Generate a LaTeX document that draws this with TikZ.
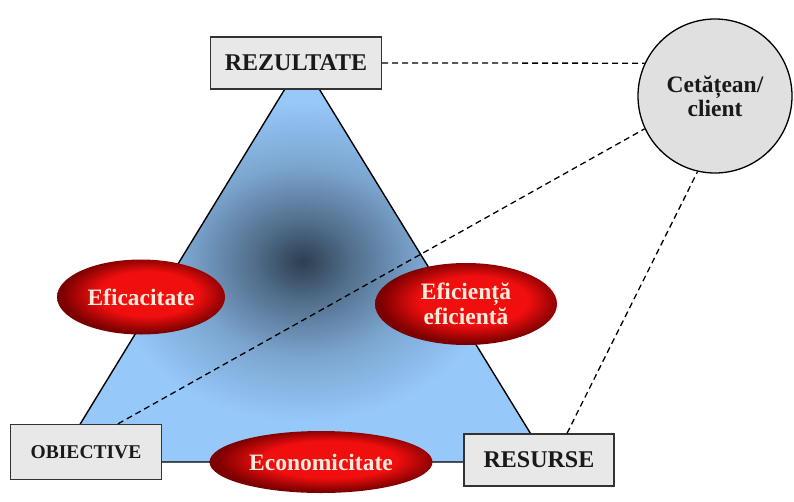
\documentclass[tikz,border=0pt]{standalone}
\usepackage{fontspec}
\setmainfont{Liberation Serif}
\usetikzlibrary{shapes.geometric}
\definecolor{boxgray}{RGB}{232,232,232}
\definecolor{tridark}{RGB}{45,62,80}
\definecolor{trilight}{RGB}{150,200,250}
\definecolor{ovalred}{RGB}{240,14,14}
\definecolor{ovaldark}{RGB}{125,0,0}
\definecolor{ovaltext}{RGB}{252,236,222}
\pgfdeclareradialshading{trishade}{\pgfpoint{0bp}{0bp}}{color(0bp)=(tridark);color(5bp)=(tridark!65!trilight);color(12bp)=(tridark!25!trilight);color(20bp)=(trilight);color(50bp)=(trilight)}
\pgfdeclareradialshading{ovalshade}{\pgfpoint{3bp}{3bp}}{color(0bp)=(ovalred);color(15bp)=(ovalred);color(25bp)=(ovaldark);color(50bp)=(ovaldark)}
\begin{document}
\begin{tikzpicture}[x=1pt,y=-1pt,
  kbox/.style={draw=black!80,line width=1.4pt,fill=boxgray,inner sep=0pt,text=black!90,font=\bfseries\fontsize{24}{26}\selectfont},
  koval/.style={ellipse,shading=ovalshade,inner sep=0pt,text=ovaltext,align=center,font=\bfseries\fontsize{23.5}{25}\selectfont},
  klink/.style={dash pattern=on 6pt off 4pt,line width=1.3pt}]
\useasboundingbox (0,0) rectangle (794,501);
% triangle
\coordinate (top) at (302,61);
\coordinate (left) at (57,462);
\coordinate (right) at (548,462);
\shade[shading=trishade] (top)--(left)--(right)--cycle;
\draw[line width=1.4pt] (top)--(left)--(right)--cycle;
% corners
\node[kbox,minimum width=171pt,minimum height=52pt] (rezultate) at (296,63) {REZULTATE};
\node[kbox,minimum width=151pt,minimum height=55pt,font=\bfseries\fontsize{19.5}{21}\selectfont] (obiective) at (86,452) {OBIECTIVE};
\node[kbox,minimum width=150pt,minimum height=52pt] (resurse) at (539,460) {RESURSE};
\node[circle,draw,line width=1.3pt,fill=black!12,minimum size=154pt,align=center,text=black!90,font=\bfseries\fontsize{23.5}{24}\selectfont] (client) at (715,96) {Cetățean/\\client};
% links to the client
\draw[klink] (rezultate.east) -- (client.155);
\draw[klink] ([xshift=32pt]obiective.north) -- (client.205);
\draw[klink] ([xshift=28pt]resurse.north) -- (client.257);
% ovals
\foreach \kname/\kx/\ky/\kw/\kh/\ktext in {eficacitate/141/297/168/75/{Eficacitate},eficienta/466/304/182/82/{Eficiență\\eficientă},economicitate/321/462/223/62/{Economicitate}}{
  \node[koval,minimum width=\kw pt,minimum height=\kh pt] (\kname) at (\kx,\ky) {\ktext};
}
\end{tikzpicture}
\end{document}
